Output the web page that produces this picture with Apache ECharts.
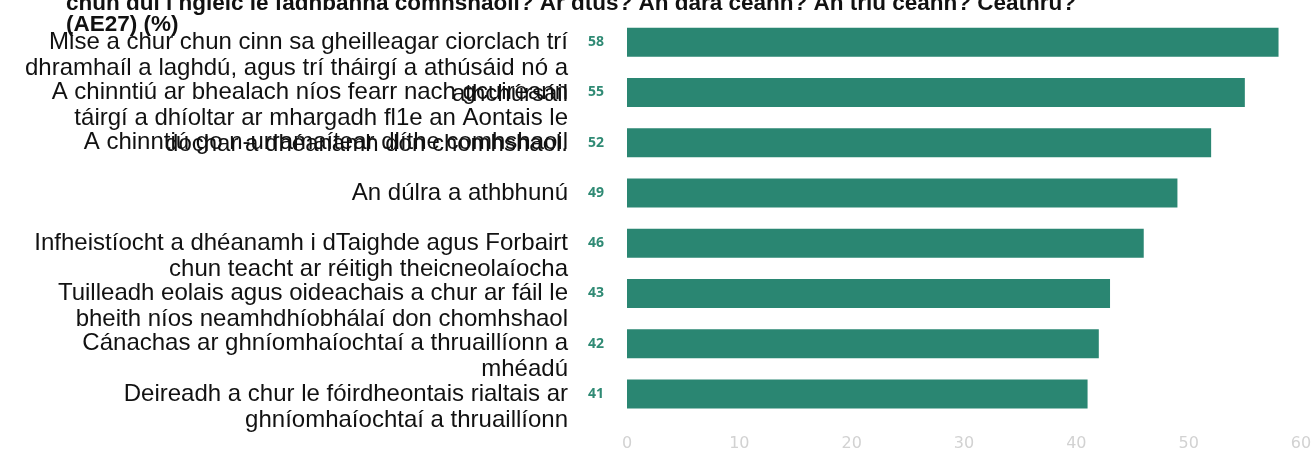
<!DOCTYPE html>
<html>
<head>
<meta charset="utf-8">
<script src="https://cdn.jsdelivr.net/npm/echarts@6/dist/echarts.min.js"></script>
<style>
  html, body { margin: 0; padding: 0; background: #fff; }
  #chart { width: 1316px; height: 459px; }
</style>
</head>
<body>
<div id="chart"></div>
<script>
// gníomhartha (categories), top to bottom
const categories = [
  "Mise a chur chun cinn sa gheilleagar ciorclach trí\ndhramhaíl a laghdú, agus trí tháirgí a athúsáid nó a\nathchúrsáil",
  "A chinntiú ar bhealach níos fearr nach gcuireann\ntáirgí a dhíoltar ar mhargadh fl1e an Aontais le\ndochar a dhéanamh don chomhshaol.",
  "A chinntiú go n-urramaítear dlíthe comhshaoil",
  "An dúlra a athbhunú",
  "Infheistíocht a dhéanamh i dTaighde agus Forbairt\nchun teacht ar réitigh theicneolaíocha",
  "Tuilleadh eolais agus oideachais a chur ar fáil le\nbheith níos neamhdhíobhálaí don chomhshaol",
  "Cánachas ar ghníomhaíochtaí a thruaillíonn a\nmhéadú",
  "Deireadh a chur le fóirdheontais rialtais ar\nghníomhaíochtaí a thruaillíonn"
];
const values = [58, 55, 52, 49, 46, 43, 42, 41];
const xTicks = { min: 0, max: 60, interval: 10 };

const chart = echarts.init(document.getElementById("chart"));

const option = {
  animation: false,
  title: {
    text: "chun dul i ngleic le fadhbanna comhshaoil? Ar dtús? An dara ceann? An tríú ceann? Ceathrú?\n(AE27) (%)",
    left: 61,
    top: -12,
    textStyle: {
      fontFamily: "Liberation Sans",
      fontWeight: "bold",
      fontSize: 22.5,
      lineHeight: 21,
      color: "#111"
    }
  },
  grid: { left: 627, right: 15, top: 17, bottom: 40, containLabel: false, outerBoundsMode: "none" },
  xAxis: {
    type: "value",
    min: xTicks.min,
    max: xTicks.max,
    interval: xTicks.interval,
    axisLine: { show: false },
    axisTick: { show: false },
    splitLine: { show: false },
    axisLabel: {
      color: "#d2d2d2",
      fontFamily: "DejaVu Sans",
      fontSize: 16,
      margin: 17
    }
  },
  yAxis: {
    type: "category",
    inverse: true,
    data: categories,
    axisLine: { show: false },
    axisTick: { show: false },
    axisLabel: {
      interval: 0,
      hideOverlap: false,
      margin: 59,
      color: "#111",
      fontFamily: "Liberation Sans",
      fontSize: 24,
      lineHeight: 26,
      align: "right",
      // first line sits on the bar centre, the rest run downward
      formatter: function (v) {
        const n = v.split("\n").length;
        return "\n".repeat(n - 1) + v;
      }
    }
  },
  series: [{
    type: "bar",
    data: values,
    barWidth: 29,
    itemStyle: { color: "#2a8672" },
    label: {
      show: true,
      position: "left",
      distance: 23,
      color: "#2f8a74",
      fontFamily: "Open Sans",
      fontWeight: "bold",
      fontSize: 14
    }
  }]
};

chart.setOption(option);
</script>
</body>
</html>
